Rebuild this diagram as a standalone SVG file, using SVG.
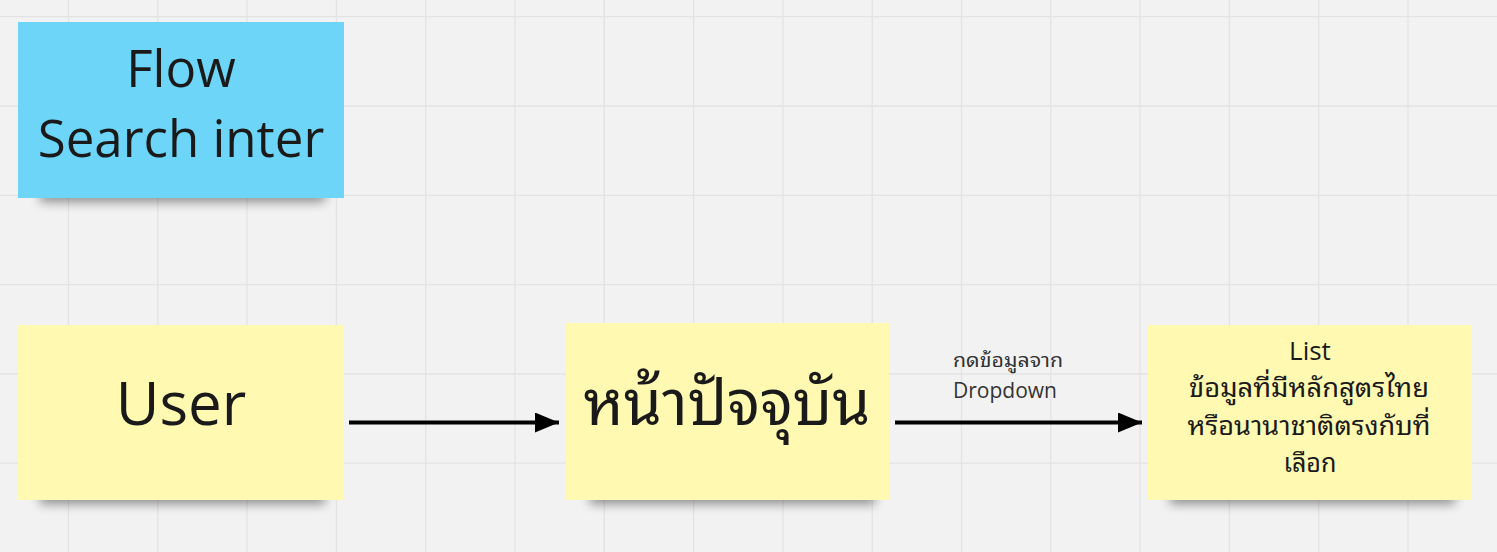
<svg xmlns="http://www.w3.org/2000/svg" width="1497" height="552" viewBox="0 0 1497 552">
<style>
.grid line{stroke:#e3e3e3;stroke-width:1.3}
.t{font-family:"Open Sans","Noto Sans Thai Looped","Noto Sans Thai","Noto Sans","DejaVu Sans",sans-serif;fill:#1a1a1a;text-anchor:middle}
.lbl{font-family:"Open Sans","Noto Sans Thai Looped","Noto Sans Thai","Noto Sans","DejaVu Sans",sans-serif;fill:#333333}
.conn line{stroke:#000;stroke-width:4}
.yellow{fill:#fff9b1}
.blue{fill:#6dd6f8}
.shadow{fill:#000;opacity:0.42;filter:url(#blur)}
</style>
<defs>
<filter id="blur" x="-20%" y="-100%" width="140%" height="300%"><feGaussianBlur stdDeviation="5.5"/></filter>
<marker id="arrow" viewBox="0 0 24 20" refX="24" refY="10" markerWidth="24" markerHeight="20" markerUnits="userSpaceOnUse" orient="auto"><path d="M0,0 L24,10 L0,20 Z" fill="#000"/></marker>
</defs>
<rect width="1497" height="552" fill="#f2f2f2"/>
<g class="grid">
<line x1="68.5" y1="0" x2="68.5" y2="552"/><line x1="157.8" y1="0" x2="157.8" y2="552"/><line x1="247" y1="0" x2="247" y2="552"/><line x1="336.4" y1="0" x2="336.4" y2="552"/><line x1="425.7" y1="0" x2="425.7" y2="552"/><line x1="515" y1="0" x2="515" y2="552"/><line x1="604.3" y1="0" x2="604.3" y2="552"/><line x1="693.6" y1="0" x2="693.6" y2="552"/><line x1="783" y1="0" x2="783" y2="552"/><line x1="872.2" y1="0" x2="872.2" y2="552"/><line x1="961.5" y1="0" x2="961.5" y2="552"/><line x1="1050.8" y1="0" x2="1050.8" y2="552"/><line x1="1140" y1="0" x2="1140" y2="552"/><line x1="1229.4" y1="0" x2="1229.4" y2="552"/><line x1="1318.7" y1="0" x2="1318.7" y2="552"/><line x1="1408" y1="0" x2="1408" y2="552"/>
<line x1="0" y1="16.7" x2="1497" y2="16.7"/><line x1="0" y1="106" x2="1497" y2="106"/><line x1="0" y1="195.3" x2="1497" y2="195.3"/><line x1="0" y1="284.6" x2="1497" y2="284.6"/><line x1="0" y1="374" x2="1497" y2="374"/><line x1="0" y1="463.2" x2="1497" y2="463.2"/>
</g>
<g id="title">
<rect class="shadow" x="40" y="188" width="285" height="14"/>
<rect class="blue" x="18" y="22" width="326" height="176"/>
<text class="t" x="181" y="87" font-size="51">Flow</text>
<text class="t" x="181" y="157" font-size="51">Search inter</text>
</g>
<g id="user">
<rect class="shadow" x="40" y="490" width="285" height="14"/>
<rect class="yellow" x="18" y="325" width="326" height="175"/>
<text class="t" x="181" y="425" font-size="60">User</text>
</g>
<g id="current">
<rect class="shadow" x="590" y="490" width="285" height="14"/>
<rect class="yellow" x="566" y="323" width="323" height="177"/>
<text class="t" x="727" y="425" font-size="64" textLength="287" lengthAdjust="spacingAndGlyphs">หน้าปัจจุบัน</text>
</g>
<g id="list">
<rect class="shadow" x="1170" y="490" width="285" height="14"/>
<rect class="yellow" x="1148" y="325" width="324" height="175"/>
<text class="t" x="1310" y="360" font-size="26">List</text>
<text class="t" x="1309" y="397" font-size="26" textLength="240" lengthAdjust="spacingAndGlyphs">ข้อมูลที่มีหลักสูตรไทย</text>
<text class="t" x="1309" y="435" font-size="26" textLength="243" lengthAdjust="spacingAndGlyphs">หรือนานาชาติตรงกับที่</text>
<text class="t" x="1310" y="472" font-size="26" textLength="53" lengthAdjust="spacingAndGlyphs">เลือก</text>
</g>
<g class="conn">
<line x1="349" y1="422.5" x2="559" y2="422.5" marker-end="url(#arrow)"/>
<line x1="895" y1="422.5" x2="1142" y2="422.5" marker-end="url(#arrow)"/>
<text class="lbl" x="953" y="367" font-size="19" textLength="110" lengthAdjust="spacingAndGlyphs">กดข้อมูลจาก</text>
<text class="lbl" x="953" y="398" font-size="21">Dropdown</text>
</g>
</svg>
